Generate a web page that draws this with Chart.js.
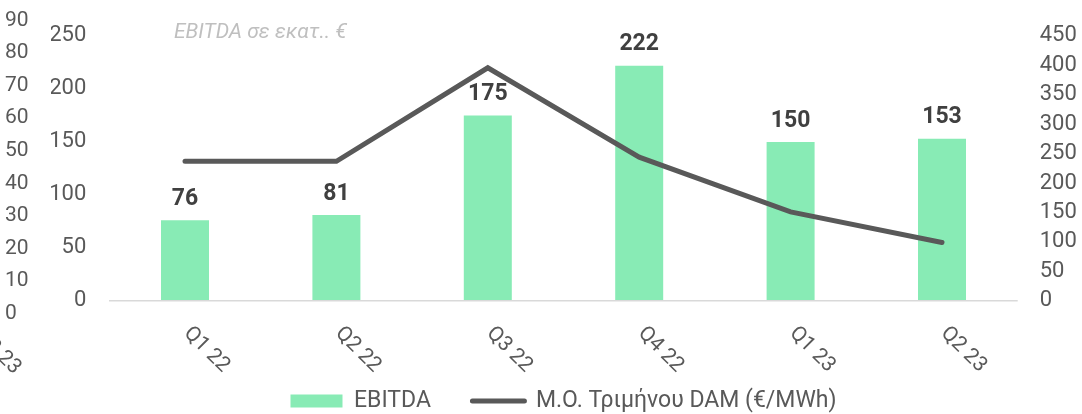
<!DOCTYPE html>
<html>
<head>
<meta charset="utf-8">
<script src="https://cdn.jsdelivr.net/npm/chart.js@4.4.1/dist/chart.umd.min.js"></script>
<style>
    html, body { margin: 0; padding: 0; background: #ffffff; }
    #wrap { width: 1082px; height: 414px; }
</style>
</head>
<body>
<div id="wrap"><canvas id="myChart"></canvas></div>
<script>
var quarters = ['Q1 22', 'Q2 22', 'Q3 22', 'Q4 22', 'Q1 23', 'Q2 23'];
var ebitda = [76, 81, 175, 222, 150, 153];          // EBITDA σε εκατ. €
var dam_price = [237, 237, 396, 244, 151, 99];      // Μ.Ο. Τριμήνου DAM (€/MWh)
var left_step = 50;      // 0 .. 250
var right_step = 50;     // 0 .. 450
var ghost_step = 10;     // stray axis 0 .. 90 on the far left
var ghost_label = 'Q2 23';
var note_text = 'EBITDA σε εκατ.. €';
var series_names = ['EBITDA', 'Μ.Ο. Τριμήνου DAM (€/MWh)'];

var bar_color = '#88ebb5';
var line_color = '#595959';
var text_color = '#595959';
var clear = 'rgba(0,0,0,0)';

Chart.defaults.font.family = 'Roboto';
Chart.defaults.color = text_color;

// value labels above bars, rotated x labels, grey note at the top
var extras = {
    id: 'extras',
    afterDatasetsDraw: function (chart) {
        var ctx = chart.ctx;
        var meta = chart.getDatasetMeta(0);
        ctx.save();
        ctx.font = 'bold 23px Roboto';
        ctx.fillStyle = '#404040';
        ctx.textAlign = 'center';
        ctx.textBaseline = 'middle';
        meta.data.forEach(function (bar, i) {
            ctx.fillText(ebitda[i], bar.x, bar.y - 21);
        });
        ctx.restore();
    },
    afterDraw: function (chart) {
        var ctx = chart.ctx;
        var area = chart.chartArea;
        var xs = chart.scales.x;
        ctx.save();
        ctx.font = '21px Roboto';
        ctx.fillStyle = text_color;
        ctx.textAlign = 'left';
        ctx.textBaseline = 'middle';
        var draw_rot = function (txt, x, y) {
            ctx.save();
            ctx.translate(x, y);
            ctx.rotate(Math.PI / 4);
            ctx.fillText(txt, 0, 0);
            ctx.restore();
        };
        quarters.forEach(function (q, i) {
            draw_rot(q, xs.getPixelForValue(i) + 2, area.bottom + 17);
        });
        draw_rot(ghost_label, area.left - 131, area.bottom + 19);

        ctx.font = 'italic 21px Roboto';
        ctx.fillStyle = '#bfbfbf';
        ctx.fillText(note_text, 174, 33);
        ctx.restore();
    }
};

var ctx = document.getElementById('myChart');
var chart = new Chart(ctx, {
    type: 'bar',
    data: {
        labels: quarters,
        datasets: [
            {
                label: series_names[0],
                data: ebitda,
                backgroundColor: bar_color,
                yAxisID: 'y',
                order: 1,
                barPercentage: 0.317,
                categoryPercentage: 1
            },
            {
                type: 'line',
                label: series_names[1],
                data: dam_price,
                borderColor: line_color,
                borderWidth: 5,
                borderCapStyle: 'round',
                pointRadius: 0,
                tension: 0,
                fill: false,
                yAxisID: 'y1',
                order: 0
            }
        ]
    },
    plugins: [extras],
    options: {
        responsive: true,
        maintainAspectRatio: false,
        animation: false,
        layout: { padding: { left: 5, right: 0, top: 20.7, bottom: -8.5 } },
        scales: {
            x: {
                grid: { display: false },
                border: { display: false },
                ticks: { display: false },
                afterFit: function (s) { s.height = 34.7; }
            },
            yGhost: {
                position: 'left',
                weight: 2,
                min: 0,
                max: 90,
                grid: { display: false, drawTicks: false },
                border: { display: false },
                ticks: { stepSize: ghost_step, crossAlign: 'far', padding: 0, autoSkip: false, font: { size: 21 }, color: text_color },
                afterFit: function (s) { s.width = 46; }
            },
            y: {
                position: 'left',
                weight: 1,
                min: -11.9,
                max: 264.45,
                border: { display: false },
                grid: {
                    drawTicks: true,
                    tickLength: 23,
                    tickColor: clear,
                    lineWidth: 1.5,
                    color: function (c) { return c.tick && c.tick.value === 0 ? '#d9d9d9' : clear; }
                },
                ticks: { stepSize: left_step, includeBounds: false, autoSkip: false, padding: 0, font: { size: 22 }, color: text_color },
                afterFit: function (s) { s.width = 58.3; }
            },
            y1: {
                position: 'right',
                min: -21.4,
                max: 476,
                border: { display: false },
                grid: { drawOnChartArea: false, drawTicks: true, tickLength: 22, tickColor: clear, color: clear },
                ticks: { stepSize: right_step, includeBounds: false, autoSkip: false, padding: 0, font: { size: 22 }, color: text_color },
                afterFit: function (s) { s.width = 64.3; }
            }
        },
        plugins: {
            tooltip: { enabled: false },
            legend: {
                position: 'bottom',
                fullSize: false,
                labels: {
                    font: { size: 23 },
                    color: text_color,
                    usePointStyle: true,
                    pointStyleWidth: 52,
                    boxHeight: 13,
                    padding: 41.5,
                    sort: function (a, b) { return a.datasetIndex - b.datasetIndex; },
                    generateLabels: function (chart) {
                        var items = Chart.defaults.plugins.legend.labels.generateLabels(chart);
                        items.forEach(function (it) {
                            if (it.datasetIndex === 0) {
                                it.pointStyle = 'rect';
                                it.fillStyle = bar_color;
                                it.lineWidth = 0;
                            } else {
                                it.pointStyle = 'line';
                                it.strokeStyle = line_color;
                                it.lineWidth = 5;
                                it.lineCap = 'round';
                            }
                        });
                        return items;
                    }
                }
            }
        }
    }
});
</script>
</body>
</html>
